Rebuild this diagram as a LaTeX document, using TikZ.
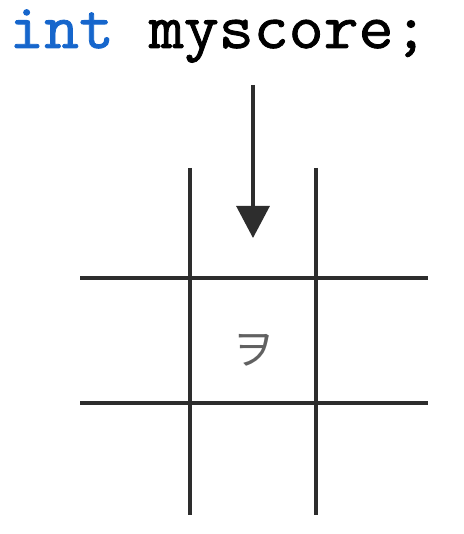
\documentclass[tikz,border=0pt]{standalone}
\usepackage{fontspec}
\setmonofont[FakeBold=1.3,FakeStretch=1.06]{Latin Modern Mono}
\newfontfamily\jpfont{Noto Sans CJK JP}
\usetikzlibrary{arrows.meta}
\definecolor{kwblue}{RGB}{22,102,204}
\definecolor{gridgray}{RGB}{45,45,45}
\tikzset{
  gridline/.style={draw=gridgray, line width=3.2pt},
  pointer/.style={draw=gridgray, line width=3.2pt, -{Triangle[width=33pt,length=32pt]}},
  code/.style={font=\ttfamily\fontsize{64}{68}\selectfont, inner sep=0pt, anchor=base west, text height=36pt, text depth=14pt},
  garbage/.style={font=\jpfont\fontsize{42}{44}\selectfont, text=gridgray!75, inner sep=0pt}
}
\begin{document}
\begin{tikzpicture}[x=1pt,y=-1pt]
\useasboundingbox (0,0) rectangle (463,534);
\node[code] (decl) at (9,48) {\textcolor{kwblue}{int} myscore;};
\coordinate (arrS) at (253,85);
\coordinate (arrE) at (253,238);
\draw[pointer] (arrS) -- (arrE);
\coordinate (v1t) at (190,168); \coordinate (v1b) at (190,515);
\coordinate (v2t) at (316,168); \coordinate (v2b) at (316,515);
\coordinate (h1l) at (80,278);  \coordinate (h1r) at (428,278);
\coordinate (h2l) at (80,403);  \coordinate (h2r) at (428,403);
\draw[gridline] (v1t) -- (v1b);
\draw[gridline] (v2t) -- (v2b);
\draw[gridline] (h1l) -- (h1r);
\draw[gridline] (h2l) -- (h2r);
\node[garbage] (cell) at (253,350) {ヲ};
\end{tikzpicture}
\end{document}
